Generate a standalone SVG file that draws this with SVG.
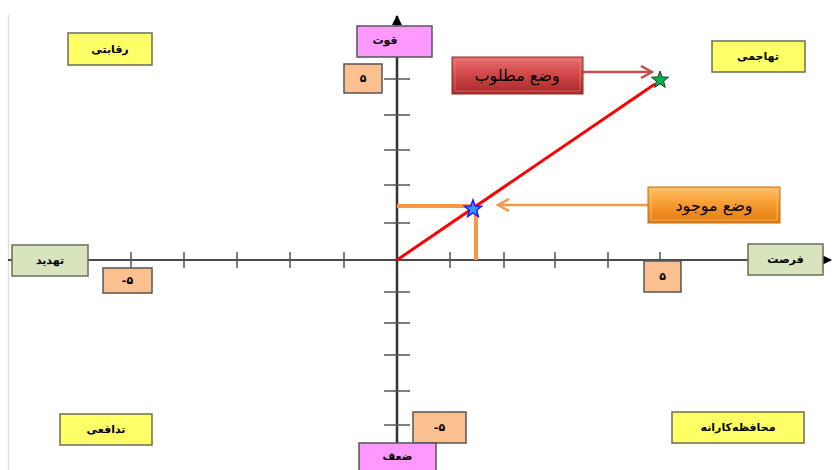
<svg xmlns="http://www.w3.org/2000/svg" width="833" height="470" viewBox="0 0 833 470">
<defs>
<style>
.lbl{font-family:"DejaVu Sans",sans-serif;font-size:11px;font-weight:bold;fill:#000;text-anchor:middle;dominant-baseline:central}
.big{font-size:16px;font-weight:normal}
.yel{fill:#ffff66;stroke:#6b6b5a;stroke-width:1.5}
.grn{fill:#d7e4bd;stroke:#6b6b5a;stroke-width:1.5}
.pnk{fill:#ff99ff;stroke:#555;stroke-width:1.5}
.org{fill:#fac090;stroke:#555;stroke-width:1.5}
.tick{stroke:#555;stroke-width:1.5}
</style>
<linearGradient id="gRed" x1="0" y1="0" x2="0" y2="1">
<stop offset="0" stop-color="#e87070"/><stop offset="0.5" stop-color="#d04545"/><stop offset="1" stop-color="#a82828"/>
</linearGradient>
<linearGradient id="gOrg" x1="0" y1="0" x2="0" y2="1">
<stop offset="0" stop-color="#ffc060"/><stop offset="0.5" stop-color="#f79a30"/><stop offset="1" stop-color="#e07a10"/>
</linearGradient>
<marker id="arrBlk" markerWidth="10" markerHeight="10" refX="9" refY="5" orient="auto" markerUnits="userSpaceOnUse">
<path d="M0,0 L10,5 L0,10 Z" fill="#000"/>
</marker>
<marker id="arrRed" markerWidth="14" markerHeight="14" refX="12" refY="7" orient="auto" markerUnits="userSpaceOnUse">
<path d="M1,1 L12,7 L1,13" fill="none" stroke="#c0504d" stroke-width="2.5"/>
</marker>
<marker id="arrOrg" markerWidth="14" markerHeight="14" refX="12" refY="7" orient="auto" markerUnits="userSpaceOnUse">
<path d="M1,1 L12,7 L1,13" fill="none" stroke="#f79646" stroke-width="2.5"/>
</marker>
</defs>
<rect width="833" height="470" fill="#fff"/>
<line x1="8.5" y1="15" x2="8.5" y2="470" stroke="#e0e0e0" stroke-width="1.5"/>

<g id="connectors">
<line x1="8" y1="260" x2="831" y2="260" stroke="#111" stroke-width="1.5" marker-end="url(#arrBlk)"/>
<line x1="397" y1="472" x2="397" y2="16" stroke="#333" stroke-width="2.5" marker-end="url(#arrBlk)"/>
<line class="tick" x1="384" y1="79" x2="410" y2="79"/>
<line class="tick" x1="384" y1="115" x2="410" y2="115"/>
<line class="tick" x1="384" y1="150" x2="410" y2="150"/>
<line class="tick" x1="384" y1="185" x2="410" y2="185"/>
<line class="tick" x1="384" y1="223" x2="410" y2="223"/>
<line class="tick" x1="384" y1="292" x2="410" y2="292"/>
<line class="tick" x1="384" y1="323" x2="410" y2="323"/>
<line class="tick" x1="384" y1="355" x2="410" y2="355" stroke="#111"/>
<line class="tick" x1="384" y1="391" x2="410" y2="391"/>
<line class="tick" x1="384" y1="425" x2="410" y2="425"/>
<line class="tick" x1="131" y1="252" x2="131" y2="268"/>
<line class="tick" x1="184" y1="252" x2="184" y2="268"/>
<line class="tick" x1="237" y1="252" x2="237" y2="268"/>
<line class="tick" x1="290" y1="252" x2="290" y2="268"/>
<line class="tick" x1="344" y1="252" x2="344" y2="268"/>
<line class="tick" x1="450" y1="252" x2="450" y2="268"/>
<line class="tick" x1="504" y1="252" x2="504" y2="268"/>
<line class="tick" x1="555" y1="252" x2="555" y2="268"/>
<line class="tick" x1="608" y1="252" x2="608" y2="268"/>
<line class="tick" x1="660" y1="252" x2="660" y2="268"/>
<line x1="397" y1="206" x2="474" y2="206" stroke="#f79646" stroke-width="4"/>
<line x1="476" y1="206" x2="476" y2="260" stroke="#f79646" stroke-width="4"/>
<line x1="397" y1="260" x2="655" y2="84" stroke="#ff0000" stroke-width="3"/>
<line x1="583" y1="72" x2="652" y2="72" stroke="#c0504d" stroke-width="2.5" marker-end="url(#arrRed)"/>
<line x1="648" y1="205" x2="498" y2="205" stroke="#f79646" stroke-width="2.5" marker-end="url(#arrOrg)"/>
</g>

<g id="star-target">
<polygon points="660,71 662.2,76.9 668.6,77.2 663.6,81.2 665.3,87.4 660,83.8 654.7,87.4 656.4,81.2 651.4,77.2 657.8,76.9" fill="#00b050" stroke="#1f3f1f" stroke-width="1"/>
</g>
<g id="star-current">
<polygon points="473,200 475.2,205.9 481.6,206.2 476.6,210.2 478.3,216.4 473,212.8 467.7,216.4 469.4,210.2 464.4,206.2 470.8,205.9" fill="#3399ff" stroke="#1a1aff" stroke-width="1.5"/>
</g>

<g id="node-strength"><rect class="pnk" x="357" y="26" width="75" height="31"/><text class="lbl" x="385" y="40">قوت</text></g>
<g id="node-y5"><rect class="org" x="344" y="64" width="38" height="29"/><text class="lbl" x="363" y="78.5">۵</text></g>
<g id="node-competitive"><rect class="yel" x="68" y="33" width="84" height="32"/><text class="lbl" x="110" y="49">رقابتی</text></g>
<g id="node-aggressive"><rect class="yel" x="712" y="41" width="93" height="31"/><text class="lbl" x="758" y="56.5">تهاجمی</text></g>
<g id="node-desired"><rect x="452" y="57" width="131" height="37" fill="url(#gRed)" stroke="#8c2a28" stroke-width="1"/><rect x="455" y="60" width="125" height="31" fill="none" stroke="#f09090" stroke-opacity="0.5" stroke-width="1"/><text class="lbl big" x="517" y="75.5">وضع مطلوب</text></g>
<g id="node-current"><rect x="648" y="187" width="132" height="36" fill="url(#gOrg)" stroke="#c86a10" stroke-width="1"/><rect x="651" y="190" width="126" height="30" fill="none" stroke="#ffd090" stroke-opacity="0.6" stroke-width="1"/><text class="lbl big" x="714" y="205">وضع موجود</text></g>
<g id="node-threat"><rect class="grn" x="12" y="245" width="76" height="31"/><text class="lbl" x="50" y="260.5">تهدید</text></g>
<g id="node-xm5"><rect class="org" x="103" y="268" width="49" height="25"/><text class="lbl" x="127.5" y="280.5">-۵</text></g>
<g id="node-opportunity"><rect class="grn" x="748" y="244" width="75" height="31"/><text class="lbl" x="785.5" y="259.5">فرصت</text></g>
<g id="node-x5"><rect class="org" x="644" y="261" width="37" height="31"/><text class="lbl" x="662.5" y="276.5">۵</text></g>
<g id="node-defensive"><rect class="yel" x="60" y="414" width="92" height="31"/><text class="lbl" x="106" y="429.5">تدافعی</text></g>
<g id="node-ym5"><rect class="org" x="413" y="412" width="53" height="31"/><text class="lbl" x="439.5" y="427.5">-۵</text></g>
<g id="node-weakness"><rect class="pnk" x="359" y="443" width="77" height="30"/><text class="lbl" x="397.5" y="456">ضعف</text></g>
<g id="node-conservative"><rect class="yel" x="672" y="412" width="132" height="31"/><text class="lbl" x="738" y="427.5">محافظه‌کارانه</text></g>
</svg>
